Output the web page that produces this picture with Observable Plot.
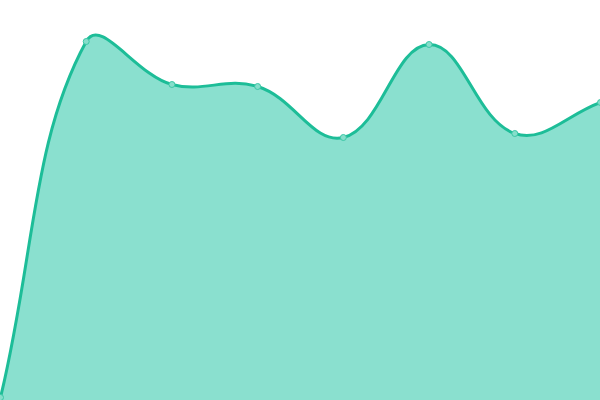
<!DOCTYPE html>
<html><head><meta charset="utf-8">
<script src="https://cdn.jsdelivr.net/npm/d3@7"></script>
<script src="https://cdn.jsdelivr.net/npm/@observablehq/plot@0.6"></script>
<style>body{margin:0;background:#fff}</style>
</head><body><div id="c"></div>
<script>
const categories = [0,1,2,3,4,5,6,7];
const values = [3, 359, 316, 314, 263, 356, 267, 298];
const data = categories.map((c,i)=>({x:c, y:values[i]}));

const W = 600, H = 400;
// Tension-based spline (distance-weighted cardinal), control points capped to the plot area
const curveSpline = (t, x0, y0, x1, y1) => (context) => {
  let line, pts;
  const clampX = v => Math.max(x0, Math.min(x1, v));
  const clampY = v => Math.max(y0, Math.min(y1, v));
  function cps(i) {
    const cur = pts[i], prev = pts[i-1] || cur, next = pts[i+1] || cur;
    const d01 = Math.hypot(cur[0]-prev[0], cur[1]-prev[1]);
    const d12 = Math.hypot(next[0]-cur[0], next[1]-cur[1]);
    let s01 = d01/(d01+d12), s12 = d12/(d01+d12);
    if (!isFinite(s01)) s01 = 0; if (!isFinite(s12)) s12 = 0;
    const fa = t*s01, fb = t*s12;
    return {
      prev: [clampX(cur[0]-fa*(next[0]-prev[0])), clampY(cur[1]-fa*(next[1]-prev[1]))],
      next: [clampX(cur[0]+fb*(next[0]-prev[0])), clampY(cur[1]+fb*(next[1]-prev[1]))]
    };
  }
  return {
    areaStart(){ line = 0; },
    areaEnd(){ line = NaN; },
    lineStart(){ pts = []; },
    lineEnd(){
      const n = pts.length;
      if (n) {
        if (line) context.lineTo(pts[0][0], pts[0][1]); else context.moveTo(pts[0][0], pts[0][1]);
        const c = pts.map((_, i) => cps(i));
        for (let i = 1; i < n; i++) {
          const a = c[i-1].next, b = c[i].prev;
          context.bezierCurveTo(a[0], a[1], b[0], b[1], pts[i][0], pts[i][1]);
        }
      }
      if (line || (line !== 0 && n === 1)) context.closePath();
      line = 1 - line;
    },
    point(x, y){ pts.push([+x, +y]); }
  };
};
const curve = curveSpline(0.4, 0, 0, W, H);

const chart = Plot.plot({
  width: W, height: H, margin: 0,
  x: {domain:[0,7], axis:null},
  y: {domain:[0,400], axis:null},
  marks: [
    Plot.areaY(data, {x:"x", y:"y", curve, fill:"#8ae0cf"}),
    Plot.lineY(data, {x:"x", y:"y", curve, stroke:"#1dbd98", strokeWidth:3}),
    Plot.dot(data, {x:"x", y:"y", r:3, fill:"#86decb", stroke:"#3cc7a6", strokeWidth:1})
  ]
});
document.getElementById("c").appendChild(chart);
</script></body></html>
